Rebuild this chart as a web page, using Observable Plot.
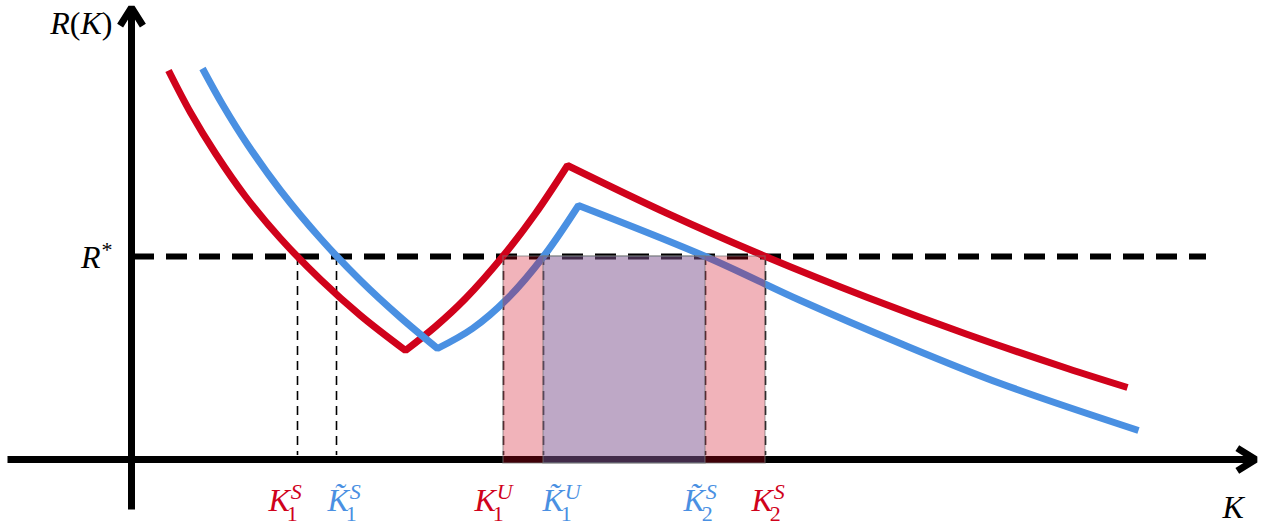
<!DOCTYPE html>
<html><head><meta charset="utf-8">
<script src="https://cdn.jsdelivr.net/npm/d3@7"></script>
<script src="https://cdn.jsdelivr.net/npm/@observablehq/plot@0.6"></script>
<style>html,body{margin:0;padding:0;background:#fff;} #chart svg{display:block;}</style>
</head><body><div id="chart"></div>
<script>
// ---- data (K, R) read from the schematic ----
const RED = "#d0021b";
const BLUE = "#4a90e2";

const Rstar = 2.03;

// red curve R(K): three smooth pieces joined at kinks
const redLeft  = [[0.37,3.89],[0.59,3.47],[0.84,3.06],[1.14,2.63],[1.49,2.21],[1.89,1.80],[2.29,1.44],[2.74,1.09]];
const redMid   = [[2.74,1.09],[3.04,1.33],[3.34,1.61],[3.72,2.04],[4.04,2.46],[4.36,2.94]];
const redRight = [[4.36,2.94],[5.36,2.46],[6.34,2.03],[7.36,1.62],[8.36,1.25],[9.36,0.91],[9.96,0.72]];

// blue curve R~(K)
const blueLeft  = [[0.71,3.91],[0.91,3.55],[1.16,3.15],[1.49,2.69],[1.89,2.21],[2.29,1.79],[2.69,1.42],[3.06,1.11]];
const blueMid   = [[3.06,1.11],[3.41,1.31],[3.76,1.61],[4.12,2.03],[4.47,2.54]];
const blueRight = [[4.47,2.54],[5.74,2.03],[6.69,1.59],[7.69,1.16],[8.69,0.76],[10.07,0.29]];

// thresholds
const K1S = 1.66, Kt1S = 2.05, K1U = 3.72, Kt1U = 4.12, Kt2S = 5.74, K2S = 6.34;

// tick labels
const labelBase  = ["K", "K\u0303", "K", "K\u0303", "K\u0303", "K"];
const labelSup   = ["S", "S", "U", "U", "S", "S"];
const labelSub   = ["1", "1", "1", "1", "2", "2"];
const labelColor = [RED, BLUE, RED, BLUE, BLUE, RED];
const labelK     = [1.37, 1.96, 3.43, 4.11, 5.52, 6.20];

// ---- build tables ----
const toRows = (pts) => pts.map(([K, R]) => ({K, R}));
const red = toRows([...redLeft, ...redMid, ...redRight]);
const blue = toRows([...blueLeft, ...blueMid, ...blueRight]);
const labels = labelBase.map((b, i) => ({base: b, sup: labelSup[i], sub: labelSub[i], color: labelColor[i], K: labelK[i]}));

const serif = "'Liberation Serif', 'DejaVu Serif', serif";
const labY = -0.51;

const chart = Plot.plot({
  width: 1271, height: 527,
  margin: 0,
  x: {domain: [-1.31, 11.40], range: [0, 1271], axis: null},
  y: {domain: [-0.68, 4.59], range: [527, 0], axis: null},
  style: {background: "white"},
  marks: [
    // axes with arrows
    Plot.arrow([{x1: -1.24, y1: 0, x2: 11.24, y2: 0}], {x1: "x1", y1: "y1", x2: "x2", y2: "y2", stroke: "black", strokeWidth: 7, headLength: 4.6, headAngle: 64, strokeLinejoin: "miter", strokeLinecap: "butt"}),
    Plot.arrow([{x1: 0, y1: -0.50, x2: 0, y2: 4.52}], {x1: "x1", y1: "y1", x2: "x2", y2: "y2", stroke: "black", strokeWidth: 7, headLength: 4.6, headAngle: 64, strokeLinejoin: "miter", strokeLinecap: "butt"}),
    // R* dashed line
    Plot.ruleY([Rstar], {x1: 0.02, x2: 10.75, stroke: "black", strokeWidth: 6, strokeDasharray: "21,12"}),
    // vertical dashed lines
    Plot.ruleX([K1S, Kt1S, K1U, Kt1U, Kt2S, K2S], {y1: Rstar, y2: 0.04, stroke: "black", strokeWidth: 1.6, strokeDasharray: "9,6"}),
    // curves
    Plot.line(red, {x: "K", y: "R", curve: "catmull-rom", stroke: RED, strokeWidth: 7, strokeLinejoin: "miter", strokeLinecap: "butt"}),
    Plot.line(blue, {x: "K", y: "R", curve: "catmull-rom", stroke: BLUE, strokeWidth: 7, strokeLinejoin: "miter", strokeLinecap: "butt"}),
    // shaded intervals
    Plot.rect([{x1: K1U, x2: K2S}], {x1: "x1", x2: "x2", y1: -0.04, y2: Rstar, fill: RED, fillOpacity: 0.3, stroke: "#777", strokeOpacity: 0.5, strokeWidth: 1.5}),
    Plot.rect([{x1: Kt1U, x2: Kt2S}], {x1: "x1", x2: "x2", y1: -0.04, y2: Rstar, fill: BLUE, fillOpacity: 0.3, stroke: "#777", strokeOpacity: 0.5, strokeWidth: 1.5}),
    // tick labels (scripts added as tspans below)
    Plot.text(labels, {x: "K", y: labY, text: "base", fill: "color", textAnchor: "start", lineAnchor: "bottom", fontSize: 32, fontStyle: "italic", fontFamily: serif}),
    // axis labels
    Plot.text(["R"], {x: -0.19, y: 4.26, textAnchor: "end", lineAnchor: "bottom", fontSize: 32, fontStyle: "italic", fontFamily: serif, fill: "black"}),
    Plot.text(["R"], {x: -0.19, y: Rstar - 0.11, textAnchor: "end", lineAnchor: "bottom", fontSize: 32, fontStyle: "italic", fontFamily: serif, fill: "black"}),
    Plot.text(["K"], {x: 10.91, y: -0.58, textAnchor: "start", lineAnchor: "bottom", fontSize: 32, fontStyle: "italic", fontFamily: serif, fill: "black"})
  ]
});
document.getElementById("chart").appendChild(chart);

// ---- typeset sub/superscripts as tspans of the same text ----
const NS = "http://www.w3.org/2000/svg";
function tspan(parent, txt, attrs) {
  const t = document.createElementNS(NS, "tspan");
  t.textContent = txt;
  for (const k in attrs) t.setAttribute(k, attrs[k]);
  parent.appendChild(t);
  return t;
}
const texts = chart.querySelectorAll("text");
labels.forEach((d, i) => {
  const el = texts[i];
  const sup = tspan(el, d.sup, {"font-size": 22, dy: -12, dx: 1});
  const w = sup.getComputedTextLength();
  tspan(el, d.sub, {"font-size": 22, "font-style": "normal", dy: 22, dx: -(w + 4)});
});
// R(K): italic letters, upright parentheses
const yl = texts[labels.length];
if (yl) {
  tspan(yl, "(", {"font-style": "normal"});
  tspan(yl, "K", {});
  tspan(yl, ")", {"font-style": "normal"});
}
// R*
const rs = texts[labels.length + 1];
if (rs) tspan(rs, "*", {"font-size": 22, "font-style": "normal", dy: -11, dx: 1});
</script>
</body></html>
